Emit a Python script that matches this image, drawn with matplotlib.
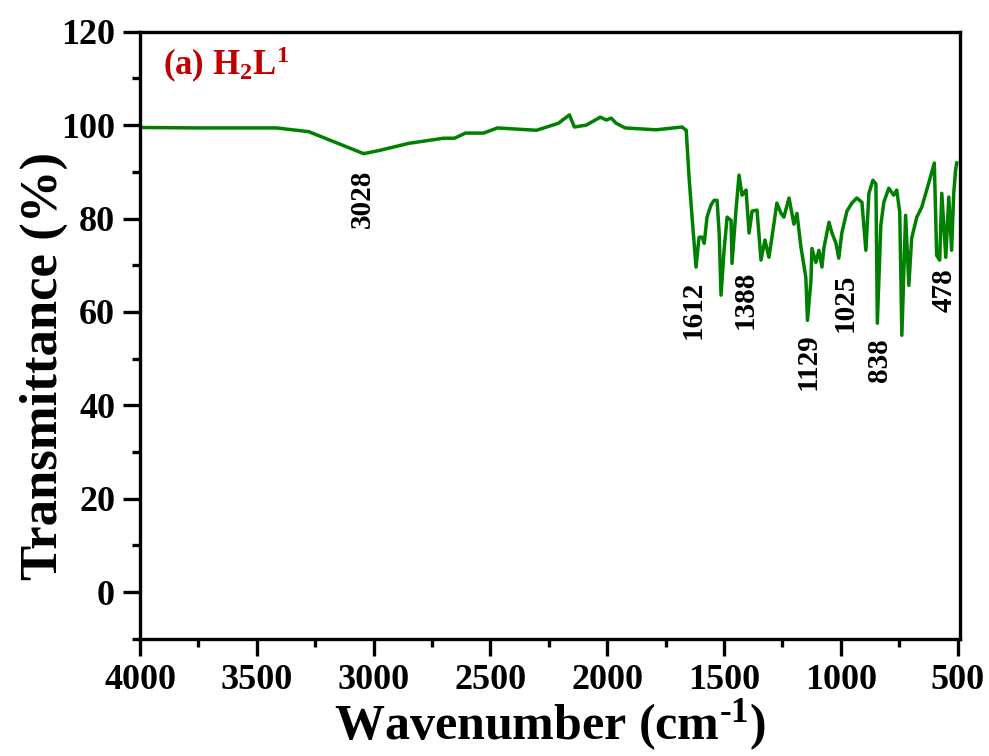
import matplotlib
matplotlib.use('Agg')
import matplotlib.pyplot as plt
from matplotlib.ticker import MultipleLocator

# FT-IR spectrum of the ligand H2L1
wavenumber = [4000, 4000, 3744, 3415, 3278, 3188, 3043, 2974, 2850, 2701, 2654, 2607,
              2530, 2470, 2303, 2209, 2162, 2141, 2090, 2030, 2004, 1983, 1962, 1923,
              1791, 1680, 1662, 1650, 1637, 1620, 1607, 1594, 1585, 1573, 1556, 1543,
              1530, 1521, 1513, 1500, 1487, 1470, 1466, 1449, 1436, 1423, 1406, 1393,
              1380, 1359, 1342, 1325, 1308, 1295, 1274, 1256, 1244, 1222, 1201, 1188,
              1171, 1150, 1143, 1128, 1124, 1107, 1094, 1081, 1073, 1051, 1038, 1021,
              1009, 996, 974, 953, 932, 910, 893, 880, 863, 850, 844, 829, 816, 795,
              774, 761, 748, 739, 723, 709, 697, 675, 654, 624, 600, 590, 577, 568,
              551, 538, 526, 517, 509, 504]
transmittance = [0.0, 99.5, 99.4, 99.4, 98.6, 96.8, 93.9, 94.6, 96.1, 97.2, 97.2, 98.3,
                 98.3, 99.4, 98.9, 100.4, 102.2, 99.6, 100.0, 101.7, 101.1, 101.5, 100.4, 99.4,
                 99.0, 99.6, 98.9, 88.9, 80.3, 69.6, 76.0, 76.0, 74.7, 80.3, 82.9, 83.9,
                 83.9, 76.9, 63.6, 73.2, 80.3, 79.6, 70.4, 81.8, 89.3, 85.0, 86.1, 76.9,
                 81.6, 81.8, 71.1, 75.4, 71.7, 76.0, 83.3, 81.1, 80.3, 84.4, 78.8, 81.1,
                 73.9, 67.4, 58.2, 66.8, 73.6, 70.6, 73.2, 69.6, 73.6, 79.2, 76.9, 74.7,
                 71.5, 76.9, 81.6, 83.3, 84.4, 83.5, 73.2, 85.4, 88.2, 87.4, 57.6, 78.6, 83.5, 86.5,
                 85.0, 86.1, 81.4, 55.0, 80.7, 65.7, 75.8, 80.3, 82.4, 87.6, 91.9, 72.1, 71.1, 85.4,
                 71.7, 84.6, 73.2, 85.4, 90.4, 91.9]

# peak labels: text, x position, y of the label top
peak_labels = ['3028', '1612', '1388', '1129', '1025', '838', '478']
peak_x = [3050, 1633, 1411, 1141, 983, 833, 559]
peak_y = [90.4, 66.6, 68.9, 55.4, 68.3, 54.4, 69.4]

plt.rcParams['font.family'] = 'Liberation Serif'
plt.rcParams['font.weight'] = 'bold'
plt.rcParams['mathtext.fontset'] = 'custom'
plt.rcParams['mathtext.rm'] = 'Liberation Serif:bold'
plt.rcParams['mathtext.it'] = 'Liberation Serif:bold'
plt.rcParams['mathtext.bf'] = 'Liberation Serif:bold'

fig = plt.figure(figsize=(9.89, 7.56), dpi=100)
ax = fig.add_axes([0.1416, 0.155, 0.8291, 0.803])

ax.plot(wavenumber, transmittance, color='#008000', linewidth=2.5)

for lab, x, y in zip(peak_labels, peak_x, peak_y):
    ax.text(x, y, lab, rotation=90, ha='center', va='top', fontsize=21,
            fontweight='bold', color='black')

ax.text(0.028, 0.979, '(a) H$_2$L$^1$', transform=ax.transAxes, fontsize=25,
        fontweight='bold', color='#C00000', ha='left', va='top')

ax.set_xlim(4000, 490)
ax.set_ylim(-10, 120)
ax.xaxis.set_major_locator(MultipleLocator(500))
ax.xaxis.set_minor_locator(MultipleLocator(250))
ax.yaxis.set_major_locator(MultipleLocator(20))
ax.yaxis.set_minor_locator(MultipleLocator(10))

for s in ax.spines.values():
    s.set_linewidth(2.4)
ax.tick_params(which='major', direction='out', length=12, width=2.4, labelsize=26,
               pad=6, top=False, right=False)
ax.tick_params(which='minor', direction='out', length=6, width=2.4,
               top=False, right=False)
for t in ax.get_xticklabels() + ax.get_yticklabels():
    t.set_fontweight('bold')

ax.set_xlabel(r'Wavenumber (cm$^{\text{-1}}$)', fontsize=36, fontweight='bold', labelpad=0)
ax.set_ylabel('Transmittance (%)', fontsize=38, fontweight='bold')
ax.yaxis.set_label_coords(-0.088, 0.45)

fig.savefig('out.png', dpi=100, facecolor='white')
